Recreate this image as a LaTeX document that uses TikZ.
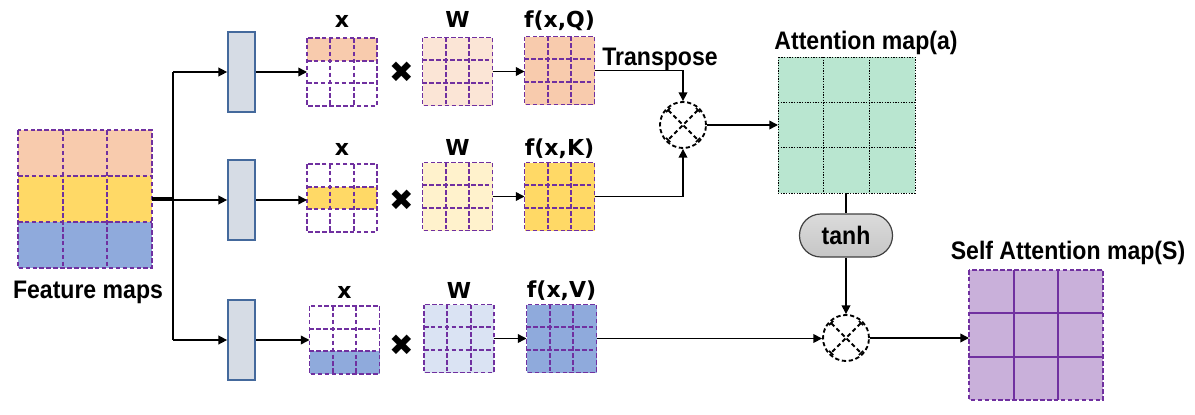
\documentclass[tikz,border=0pt]{standalone}
\usepackage{fontspec}
\setmainfont{Liberation Sans}
\newfontfamily\vlabfont{DejaVu Sans}
\usetikzlibrary{arrows.meta,calc}

\definecolor{cpeach}{HTML}{F8CBAD}
\definecolor{cyellow}{HTML}{FFD966}
\definecolor{cblue}{HTML}{8FAADC}
\definecolor{lpeach}{HTML}{FBE5D6}
\definecolor{lyellow}{HTML}{FFF2CC}
\definecolor{lblue}{HTML}{DAE3F3}
\definecolor{cgreen}{HTML}{B9E6D0}
\definecolor{clilac}{HTML}{C9B0DA}
\definecolor{gpurple}{HTML}{7030A0}
\definecolor{boxfill}{HTML}{D6DCE5}
\definecolor{boxline}{HTML}{44699C}

% main (Arial-like) labels and small (Verdana-like) labels
\newcommand\mainlbl[1]{\scalebox{0.91}[1]{\fontsize{19}{19}\selectfont\bfseries #1}}
\newcommand\smalllbl[1]{{\vlabfont\fontsize{16.5}{16.5}\selectfont\bfseries #1}}

% fill row #2 (0,1,2 from the top) of grid node #1
\newcommand\rowfill[3]{%
  \fill[#3] ($(#1.north west)!{#2/3}!(#1.south west)$) rectangle ($(#1.north east)!{#2/3+1/3}!(#1.south east)$);}

% 3x3 grid lines over node #1: inner style #2, outer style #3
\newcommand\gridin[3]{%
  \draw[#2] ($(#1.north west)!{1/3}!(#1.north east)$) -- ($(#1.south west)!{1/3}!(#1.south east)$);
  \draw[#2] ($(#1.north west)!{2/3}!(#1.north east)$) -- ($(#1.south west)!{2/3}!(#1.south east)$);
  \draw[#2] ($(#1.north west)!{1/3}!(#1.south west)$) -- ($(#1.north east)!{1/3}!(#1.south east)$);
  \draw[#2] ($(#1.north west)!{2/3}!(#1.south west)$) -- ($(#1.north east)!{2/3}!(#1.south east)$);
  \draw[#3] (#1.north west) rectangle (#1.south east);}

\tikzset{
  gridnode/.style={rectangle, inner sep=0pt, outer sep=0pt, minimum width=52.5pt, minimum height=51pt},
  gridline/.style={draw=gpurple, line width=1.35pt, dash pattern=on 3.4pt off 1.8pt},
  attline/.style={draw=black, line width=0.75pt, dash pattern=on 1pt off 1pt},
  sinner/.style={draw=gpurple, line width=1.5pt},
  projbox/.style={rectangle, inner sep=0pt, minimum width=20.25pt, minimum height=60pt,
                  fill=boxfill, draw=boxline, line width=1.3pt},
  mulnode/.style={circle, inner sep=0pt, minimum size=34.5pt, draw=black, line width=1.4pt,
                  dash pattern=on 3.2pt off 2pt},
  crossline/.style={line width=1.4pt, dash pattern=on 3.2pt off 2.2pt,
                  {Bar[width=4.5pt,line width=1.2pt]}-{Bar[width=4.5pt,line width=1.2pt]}, shorten <=1.5pt, shorten >=1.5pt},
  conn/.style={line width=1.1pt, -{Triangle[length=6.5pt,width=6.5pt]}},
  plain/.style={line width=1.1pt},
  vlab/.style={anchor=base, inner sep=0pt},
  mlab/.style={anchor=base, inner sep=0pt},
  timesmark/.style={inner sep=0pt, font=\vlabfont\fontsize{22}{22}\selectfont},
  pill/.style={rectangle, rounded corners=16pt, minimum width=69.75pt, minimum height=32.25pt,
               draw=black!75, line width=0.9pt, top color=gray!28, bottom color=gray!45, inner sep=0pt},
}

\begin{document}
\begin{tikzpicture}[x=0.75pt,y=-0.75pt]
\useasboundingbox (0,0) rectangle (1195,414);

% ---------- feature maps ----------
\node[gridnode, minimum width=100.5pt, minimum height=103.5pt] (fm) at (85,199) {};
\rowfill{fm}{0}{cpeach}
\rowfill{fm}{1}{cyellow}
\rowfill{fm}{2}{cblue}
\gridin{fm}{gridline}{gridline}
\node[mlab] (lfm) at (88,298) {\mainlbl{Feature maps}};

% ---------- projection boxes ----------
\node[projbox] (bq) at (241.5,72) {};
\node[projbox] (bk) at (241.5,200) {};
\node[projbox] (bv) at (241.5,340) {};

\coordinate (sq) at (173,72);
\coordinate (sk) at (173,200);
\coordinate (sv) at (173,340);
\draw[line width=2.4pt] (fm.east) -- (fm.east -| sk);
\draw[line width=1.6pt] (sq) -- (sv);
\draw[conn] (sq) -- (bq.west);
\draw[conn] (sk) -- (bk.west);
\draw[conn] (sv) -- (bv.west);

% ---------- input rows x ----------
\node[gridnode, fill=white] (xq) at (342,72) {};
\rowfill{xq}{0}{cpeach}
\gridin{xq}{gridline}{gridline}
\node[gridnode, fill=white] (xk) at (342,198) {};
\rowfill{xk}{1}{cyellow}
\gridin{xk}{gridline}{gridline}
\node[gridnode, fill=white] (xv) at (344.5,340) {};
\rowfill{xv}{2}{cblue}
\gridin{xv}{gridline}{gridline}

\draw[conn] (bq.east) -- (bq.east -| xq.west);
\draw[conn] (bk.east) -- (bk.east -| xk.west);
\draw[conn] (bv.east) -- (bv.east -| xv.west);

% ---------- weights W ----------
\node[gridnode, fill=lpeach] (wq) at (457.5,71.5) {};
\gridin{wq}{gridline}{gridline}
\node[gridnode, fill=lyellow] (wk) at (457.5,196.5) {};
\gridin{wk}{gridline}{gridline}
\node[gridnode, fill=lblue] (wv) at (459,338.5) {};
\gridin{wv}{gridline}{gridline}

\node[timesmark] (mq) at (402,72) {✖};
\node[timesmark] (mk) at (402,200) {✖};
\node[timesmark] (mv) at (402,345) {✖};

% ---------- projections f ----------
\node[gridnode, fill=cpeach] (fq) at (559.5,70.5) {};
\gridin{fq}{gridline}{gridline}
\node[gridnode, fill=cyellow] (fk) at (559.5,196.5) {};
\gridin{fk}{gridline}{gridline}
\node[gridnode, fill=cblue] (fv) at (561.5,338.5) {};
\gridin{fv}{gridline}{gridline}

\draw[conn] (wq.east) -- (wq.east -| fq.west);
\draw[conn] (wk.east) -- (wk.east -| fk.west);
\draw[conn] (wv.east) -- (wv.east -| fv.west);

% labels above the grids
\node[vlab] (lxq) at (342,27) {\smalllbl{x}};
\node[vlab] (lwq) at (457.5,27) {\smalllbl{W}};
\node[vlab] (lfq) at (559.5,27) {\smalllbl{f(x,Q)}};
\node[vlab] (lxk) at (342,155) {\smalllbl{x}};
\node[vlab] (lwk) at (457.5,155) {\smalllbl{W}};
\node[vlab] (lfk) at (559.5,155) {\smalllbl{f(x,K)}};
\node[vlab] (lxv) at (344.5,298) {\smalllbl{x}};
\node[vlab] (lwv) at (459,298) {\smalllbl{W}};
\node[vlab] (lfv) at (561.5,297) {\smalllbl{f(x,V)}};

% ---------- attention ----------
\node[mulnode] (c1) at (683,125) {};
\draw[crossline] (c1.north west) -- (c1.south east);
\draw[crossline] (c1.north east) -- (c1.south west);
\draw[conn] (fq.east) -| (c1.north);
\draw[conn] (fk.east) -| (c1.south);
\node[mlab] (ltr) at (660,65) {\mainlbl{Transpose}};

\node[gridnode, fill=cgreen, minimum width=102.75pt, minimum height=102pt] (att) at (846.5,125) {};
\gridin{att}{attline}{attline}
\node[mlab] (latt) at (866,49) {\mainlbl{Attention map(a)}};
\draw[conn] (c1.east) -- (c1.east -| att.west);

\node[pill] (th) at (846,235.5) {\mainlbl{tanh}};
\draw[plain] (att.south -| th.north) -- (th.north);

% ---------- self attention ----------
\node[mulnode] (c2) at (846,338) {};
\draw[crossline] (c2.north west) -- (c2.south east);
\draw[crossline] (c2.north east) -- (c2.south west);
\draw[conn] (th.south) -- (c2.north);
\draw[conn] (fv.east) -- (fv.east -| c2.west);

\node[gridnode, fill=clilac, minimum width=100.5pt, minimum height=97.5pt] (smap) at (1036,335) {};
\gridin{smap}{sinner}{gridline}
\node[mlab] (lsm) at (1068,259) {\mainlbl{Self Attention map(S)}};
\draw[conn] (c2.east) -- (c2.east -| smap.west);

\end{tikzpicture}
\end{document}
